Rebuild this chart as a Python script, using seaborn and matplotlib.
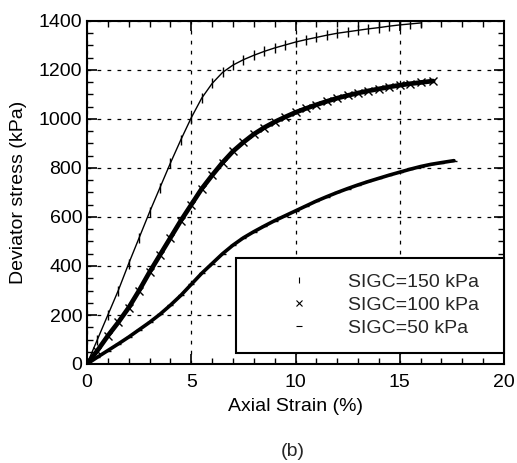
import matplotlib

matplotlib.use("Agg")

import matplotlib.pyplot as plt
import seaborn as sns
from matplotlib.lines import Line2D
from matplotlib.ticker import MultipleLocator


# values
strain_150 = [0, 0.5, 1, 1.5, 2, 2.5, 3, 3.5, 4, 4.5, 5, 5.5, 6, 6.5, 7, 7.5, 8,
              8.5, 9, 9.5, 10, 10.5, 11, 11.5, 12, 12.5, 13, 13.5, 14, 14.5, 15, 15.5, 16]
stress_150 = [0, 100, 200, 300, 410, 515, 620, 720, 820, 915, 1005, 1085, 1145, 1190, 1220, 1242, 1260,
              1276, 1290, 1302, 1314, 1324, 1333, 1342, 1350, 1356, 1362, 1368, 1373, 1379, 1384, 1388, 1392]

strain_100 = [0, 0.5, 1, 1.5, 2, 2.5, 3, 3.5, 4, 4.5, 5, 5.5, 6, 6.5, 7, 7.5, 8,
              8.5, 9, 9.5, 10, 10.5, 11, 11.5, 12, 12.5, 13, 13.5, 14, 14.5, 15, 15.5, 16, 16.6]
stress_100 = [0, 55, 115, 170, 230, 300, 375, 445, 515, 585, 650, 715, 770, 822, 868, 905, 938,
              965, 988, 1008, 1027, 1043, 1058, 1072, 1085, 1096, 1106, 1115, 1123, 1131, 1138, 1144, 1149, 1155]

strain_50 = [0, 0.5, 1, 1.5, 2, 2.5, 3, 3.5, 4, 4.5, 5, 5.5, 6, 6.5, 7, 7.5, 8, 8.5,
             9, 9.5, 10, 10.5, 11, 11.5, 12, 12.5, 13, 13.5, 14, 14.5, 15, 15.5, 16, 16.5, 17, 17.6]
stress_50 = [0, 28, 55, 82, 110, 140, 170, 203, 240, 280, 325, 370, 410, 450, 485, 515, 540, 563,
             585, 605, 625, 645, 665, 683, 700, 716, 731, 745, 758, 771, 783, 795, 806, 815, 822, 830]

labels = ["SIGC=150 kPa", "SIGC=100 kPa", "SIGC=50 kPa"]


def main():
    sns.set_theme(style="ticks")
    plt.rcParams["font.family"] = ["Liberation Sans", "DejaVu Sans"]

    fig = plt.figure(figsize=(5.17, 4.63), dpi=100)
    ax = fig.add_axes([87 / 517, 1 - 364 / 463, 417 / 517, 343 / 463])

    sns.lineplot(x=strain_150, y=stress_150, ax=ax, color="black", linewidth=1.0,
                 marker="|", markersize=7, markeredgewidth=1.0, markeredgecolor="black")
    sns.lineplot(x=strain_100, y=stress_100, ax=ax, color="black", linewidth=3.4,
                 marker="x", markersize=6, markeredgewidth=1.0, markeredgecolor="black")
    sns.lineplot(x=strain_50, y=stress_50, ax=ax, color="black", linewidth=2.6,
                 marker="_", markersize=4, markeredgewidth=1.0, markeredgecolor="black")

    ax.set_xlim(0, 20)
    ax.set_ylim(0, 1400)
    ax.xaxis.set_major_locator(MultipleLocator(5))
    ax.xaxis.set_minor_locator(MultipleLocator(1))
    ax.yaxis.set_major_locator(MultipleLocator(200))
    ax.yaxis.set_minor_locator(MultipleLocator(50))
    ax.tick_params(which="both", direction="in", top=True, right=True, colors="black",
                   labelsize=14)
    ax.tick_params(which="major", length=7, width=1.2)
    ax.tick_params(which="minor", length=4, width=1.0)
    ax.tick_params(axis="x", which="major", pad=7)
    ax.grid(True, which="major", color="black", linestyle=(0, (3, 5)), linewidth=0.9)
    for spine in ax.spines.values():
        spine.set_color("black")
        spine.set_linewidth(1.5)

    ax.set_xlabel("Axial Strain (%)", fontsize=14, color="black", labelpad=5)
    ax.set_ylabel("Deviator stress (kPa)", fontsize=14, color="black", labelpad=8)

    handles = [
        Line2D([], [], color="black", linestyle="none", marker="|", markersize=4, markeredgewidth=0.8),
        Line2D([], [], color="black", linestyle="none", marker="x", markersize=4, markeredgewidth=0.8),
        Line2D([], [], color="black", linestyle="none", marker="_", markersize=4, markeredgewidth=0.8),
    ]
    leg = ax.legend(handles, labels, loc="upper left", mode="expand",
                    bbox_to_anchor=(149 / 417, 0, 1 - 149 / 417, 106 / 343),
                    borderaxespad=0, fontsize=14, frameon=True, fancybox=False,
                    borderpad=0.8, handlelength=4.85, handletextpad=0.12, labelspacing=0.28)
    leg.get_frame().set_edgecolor("black")
    leg.get_frame().set_linewidth(1.5)
    leg.get_frame().set_alpha(1)

    fig.text(293 / 517, 1 - 452 / 463, "(b)", ha="center", va="center", fontsize=14)

    fig.savefig("out.png", dpi=100)
    plt.close(fig)


if __name__ == "__main__":
    main()
